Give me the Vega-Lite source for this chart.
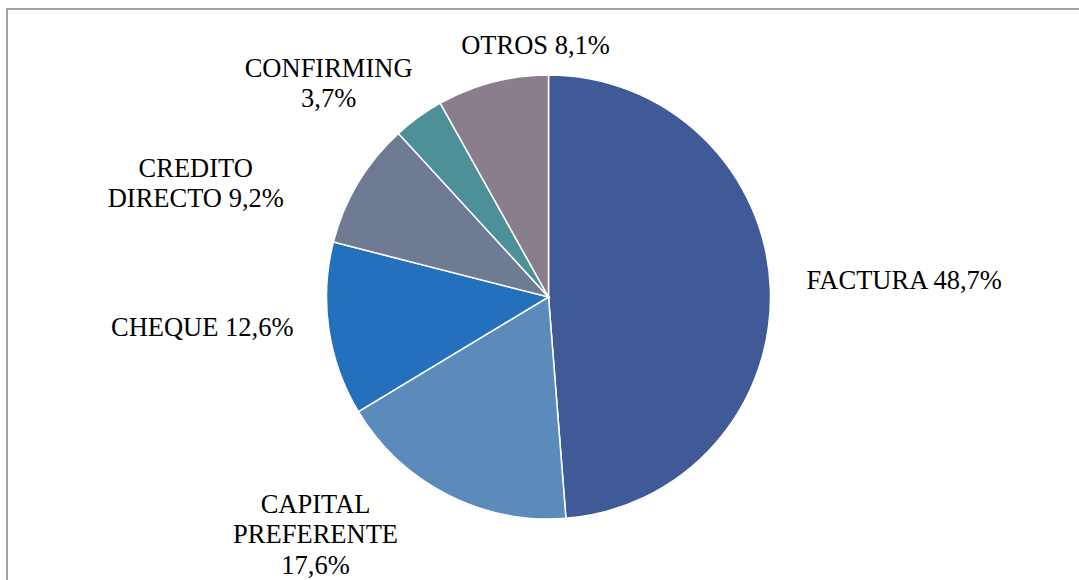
{
  "$schema": "https://vega.github.io/schema/vega-lite/v6.json",
  "autosize": {"type": "none"},
  "padding": {"left": 7, "top": 9, "right": -11, "bottom": -5},
  "width": 1083,
  "height": 576,
  "background": "white",
  "view": {"stroke": "#A3A3A3", "strokeWidth": 2, "fill": "white"},
  "data": {
    "values": [
      {"idx": 1, "cat": "FACTURA", "value": 48.7, "label": "FACTURA 48,7%"},
      {"idx": 2, "cat": "CAPITAL PREFERENTE", "value": 17.6, "label": "CAPITAL\nPREFERENTE\n17,6%"},
      {"idx": 3, "cat": "CHEQUE", "value": 12.6, "label": "CHEQUE 12,6%"},
      {"idx": 4, "cat": "CREDITO DIRECTO", "value": 9.2, "label": "CREDITO\nDIRECTO 9,2%"},
      {"idx": 5, "cat": "CONFIRMING", "value": 3.7, "label": "CONFIRMING\n3,7%"},
      {"idx": 6, "cat": "OTROS", "value": 8.1, "label": "OTROS 8,1%"}
    ]
  },
  "encoding": {
    "theta": {"field": "value", "type": "quantitative", "stack": true},
    "order": {"field": "idx", "type": "quantitative", "sort": "ascending"}
  },
  "layer": [
    {
      "mark": {"type": "arc", "outerRadius": 222, "stroke": "white", "strokeWidth": 1.5},
      "encoding": {
        "color": {
          "field": "cat", "type": "nominal", "legend": null,
          "scale": {
            "domain": ["FACTURA", "CAPITAL PREFERENTE", "CHEQUE", "CREDITO DIRECTO", "CONFIRMING", "OTROS"],
            "range": ["#405A98", "#5A8BBA", "#2470BC", "#6E7B93", "#4E9098", "#8A7E8C"]
          }
        }
      }
    },
    {
      "mark": {"type": "text", "radius": 357, "dx": -1, "dy": -2, "font": "Liberation Serif", "fontSize": 26.5, "lineHeight": 30, "lineBreak": "\n", "align": "center", "baseline": "middle", "color": "black"},
      "encoding": {"text": {"condition": {"test": "datum.cat === 'FACTURA'", "field": "label"}, "value": ""}}
    },
    {
      "mark": {"type": "text", "radius": 317, "dx": -88, "dy": -74, "font": "Liberation Serif", "fontSize": 26.5, "lineHeight": 30.5, "lineBreak": "\n", "align": "center", "baseline": "middle", "color": "black"},
      "encoding": {"text": {"condition": {"test": "datum.cat === 'CAPITAL PREFERENTE'", "field": "label"}, "value": ""}}
    },
    {
      "mark": {"type": "text", "radius": 350, "dx": 0, "dy": -20, "font": "Liberation Serif", "fontSize": 26.5, "lineHeight": 30, "lineBreak": "\n", "align": "center", "baseline": "middle", "color": "black"},
      "encoding": {"text": {"condition": {"test": "datum.cat === 'CHEQUE'", "field": "label"}, "value": ""}}
    },
    {
      "mark": {"type": "text", "radius": 361, "dx": -43, "dy": 57, "font": "Liberation Serif", "fontSize": 26.5, "lineHeight": 30, "lineBreak": "\n", "align": "center", "baseline": "middle", "color": "black"},
      "encoding": {"text": {"condition": {"test": "datum.cat === 'CREDITO DIRECTO'", "field": "label"}, "value": ""}}
    },
    {
      "mark": {"type": "text", "radius": 302, "dx": -43, "dy": 17, "font": "Liberation Serif", "fontSize": 26.5, "lineHeight": 29.5, "lineBreak": "\n", "align": "center", "baseline": "middle", "color": "black"},
      "encoding": {"text": {"condition": {"test": "datum.cat === 'CONFIRMING'", "field": "label"}, "value": ""}}
    },
    {
      "mark": {"type": "text", "radius": 246, "dx": 49, "dy": -13, "font": "Liberation Serif", "fontSize": 26.5, "lineHeight": 30, "lineBreak": "\n", "align": "center", "baseline": "middle", "color": "black"},
      "encoding": {"text": {"condition": {"test": "datum.cat === 'OTROS'", "field": "label"}, "value": ""}}
    }
  ]
}
